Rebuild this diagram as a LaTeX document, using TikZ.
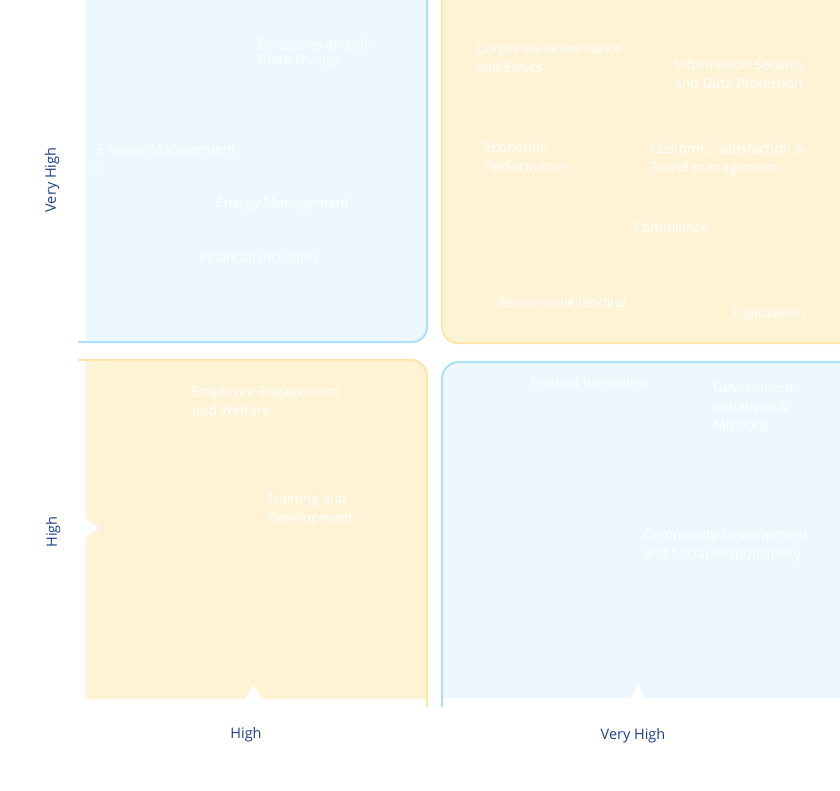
\documentclass[tikz,border=0pt]{standalone}
\usepackage{fontspec}
\setmainfont{Open Sans}
\definecolor{qblue}{HTML}{ECF8FE}
\definecolor{qblueline}{HTML}{AEDFF8}
\definecolor{qyellow}{HTML}{FFF3D6}
\definecolor{qyellowline}{HTML}{FCE7A6}
\definecolor{axisblue}{HTML}{1D3F8A}

\begin{document}
\begin{tikzpicture}[x=1pt, y=-1pt,
  issue/.style={anchor=base west, inner sep=0pt, text=white, align=left,
                font=\fontsize{13.8}{19}\selectfont},
  axislbl/.style={text=axisblue, inner sep=0pt, font=\fontsize{14.5}{16}\selectfont},
  bline/.style={draw=qblueline, line width=2pt},
  yline/.style={draw=qyellowline, line width=2pt},
  notch/.style={fill=white}
]
\useasboundingbox (0,0) rectangle (840,790);
\clip (0,0) rectangle (840,790);

% Quadrant panels
\fill[qblue]   (86,-30) -- (427,-30) -- (427,327) arc[start angle=0, end angle=90, radius=15] -- (86,342) -- cycle;
\fill[qyellow] (860,-30) -- (442,-30) -- (442,327) arc[start angle=180, end angle=90, radius=16] -- (860,343) -- cycle;
\fill[qyellow] (86,360) -- (411,360) arc[start angle=-90, end angle=0, radius=16] -- (427,699) -- (86,699) -- cycle;
\fill[qblue]   (860,362) -- (459,362) arc[start angle=-90, end angle=-180, radius=17] -- (442,698) -- (860,698) -- cycle;

\draw[bline] (427,-30) -- (427,327) arc[start angle=0, end angle=90, radius=15] -- (78,342);
\draw[yline] (442,-30) -- (442,327) arc[start angle=180, end angle=90, radius=16] -- (860,343);
\draw[yline] (78,360) -- (411,360) arc[start angle=-90, end angle=0, radius=16] -- (427,707);
\draw[bline] (860,362) -- (459,362) arc[start angle=-90, end angle=-180, radius=17] -- (442,707);

% Notches on the axes
\draw[white, line width=0.5pt] (86,157) -- (99,168) -- (86,179);
\fill[notch] (86,519) -- (99,528) -- (86,537) -- cycle;
\fill[notch] (245,699) -- (253,685) -- (262,699) -- cycle;
\fill[notch] (631,698) -- (638,685) -- (645,698) -- cycle;

% Top left (anchor is the baseline of the last line)
\node[issue, font=\fontsize{13.8}{14.5}\selectfont] (emis) at (258,64) {Emissions and cli-\\mate change};
\node[issue] (ewaste) at (97,154) {E-waste Management};
\node[issue] (energy) at (216,207) {Energy Management};
\node[issue] (fincl)  at (199,262) {Financial Inclusion};

% Top right
\node[issue] (corpgov)  at (476,72)  {Corporate Governance\\and Ethics};
\node[issue] (infosec)  at (674,88)  {Information Security\\and Data Protection};
\node[issue] (econ)     at (484,171) {Economic\\Performance};
\node[issue] (custsat)  at (650,172) {Customer Satisfaction \&\\Brand management};
\node[issue] (compl)    at (633,232) {Compliance};
\node[issue] (resplend) at (497,307) {Responsible lending};
\node[issue] (digit)    at (733,317) {Digitization};

% Bottom left
\node[issue] (empeng) at (192,415) {Employee Engagement\\and Welfare};
\node[issue] (train)  at (267,522) {Training and\\Development};

% Bottom right
\node[issue] (prodinn) at (529,387) {Product Innovaion};
\node[issue] (govinit) at (713,430) {Government\\Initiatives \&\\Missions};
\node[issue] (commdev) at (643,558) {Community Development\\and Social Responsibility};

% Axis labels
\node[axislbl, rotate=90] (yveryhigh) at (52,180) {Very High};
\node[axislbl, rotate=90] (yhigh)     at (53,532) {High};
\node[axislbl] (xhigh)     at (246,735) {High};
\node[axislbl] (xveryhigh) at (633,736) {Very High};
\end{tikzpicture}
\end{document}
